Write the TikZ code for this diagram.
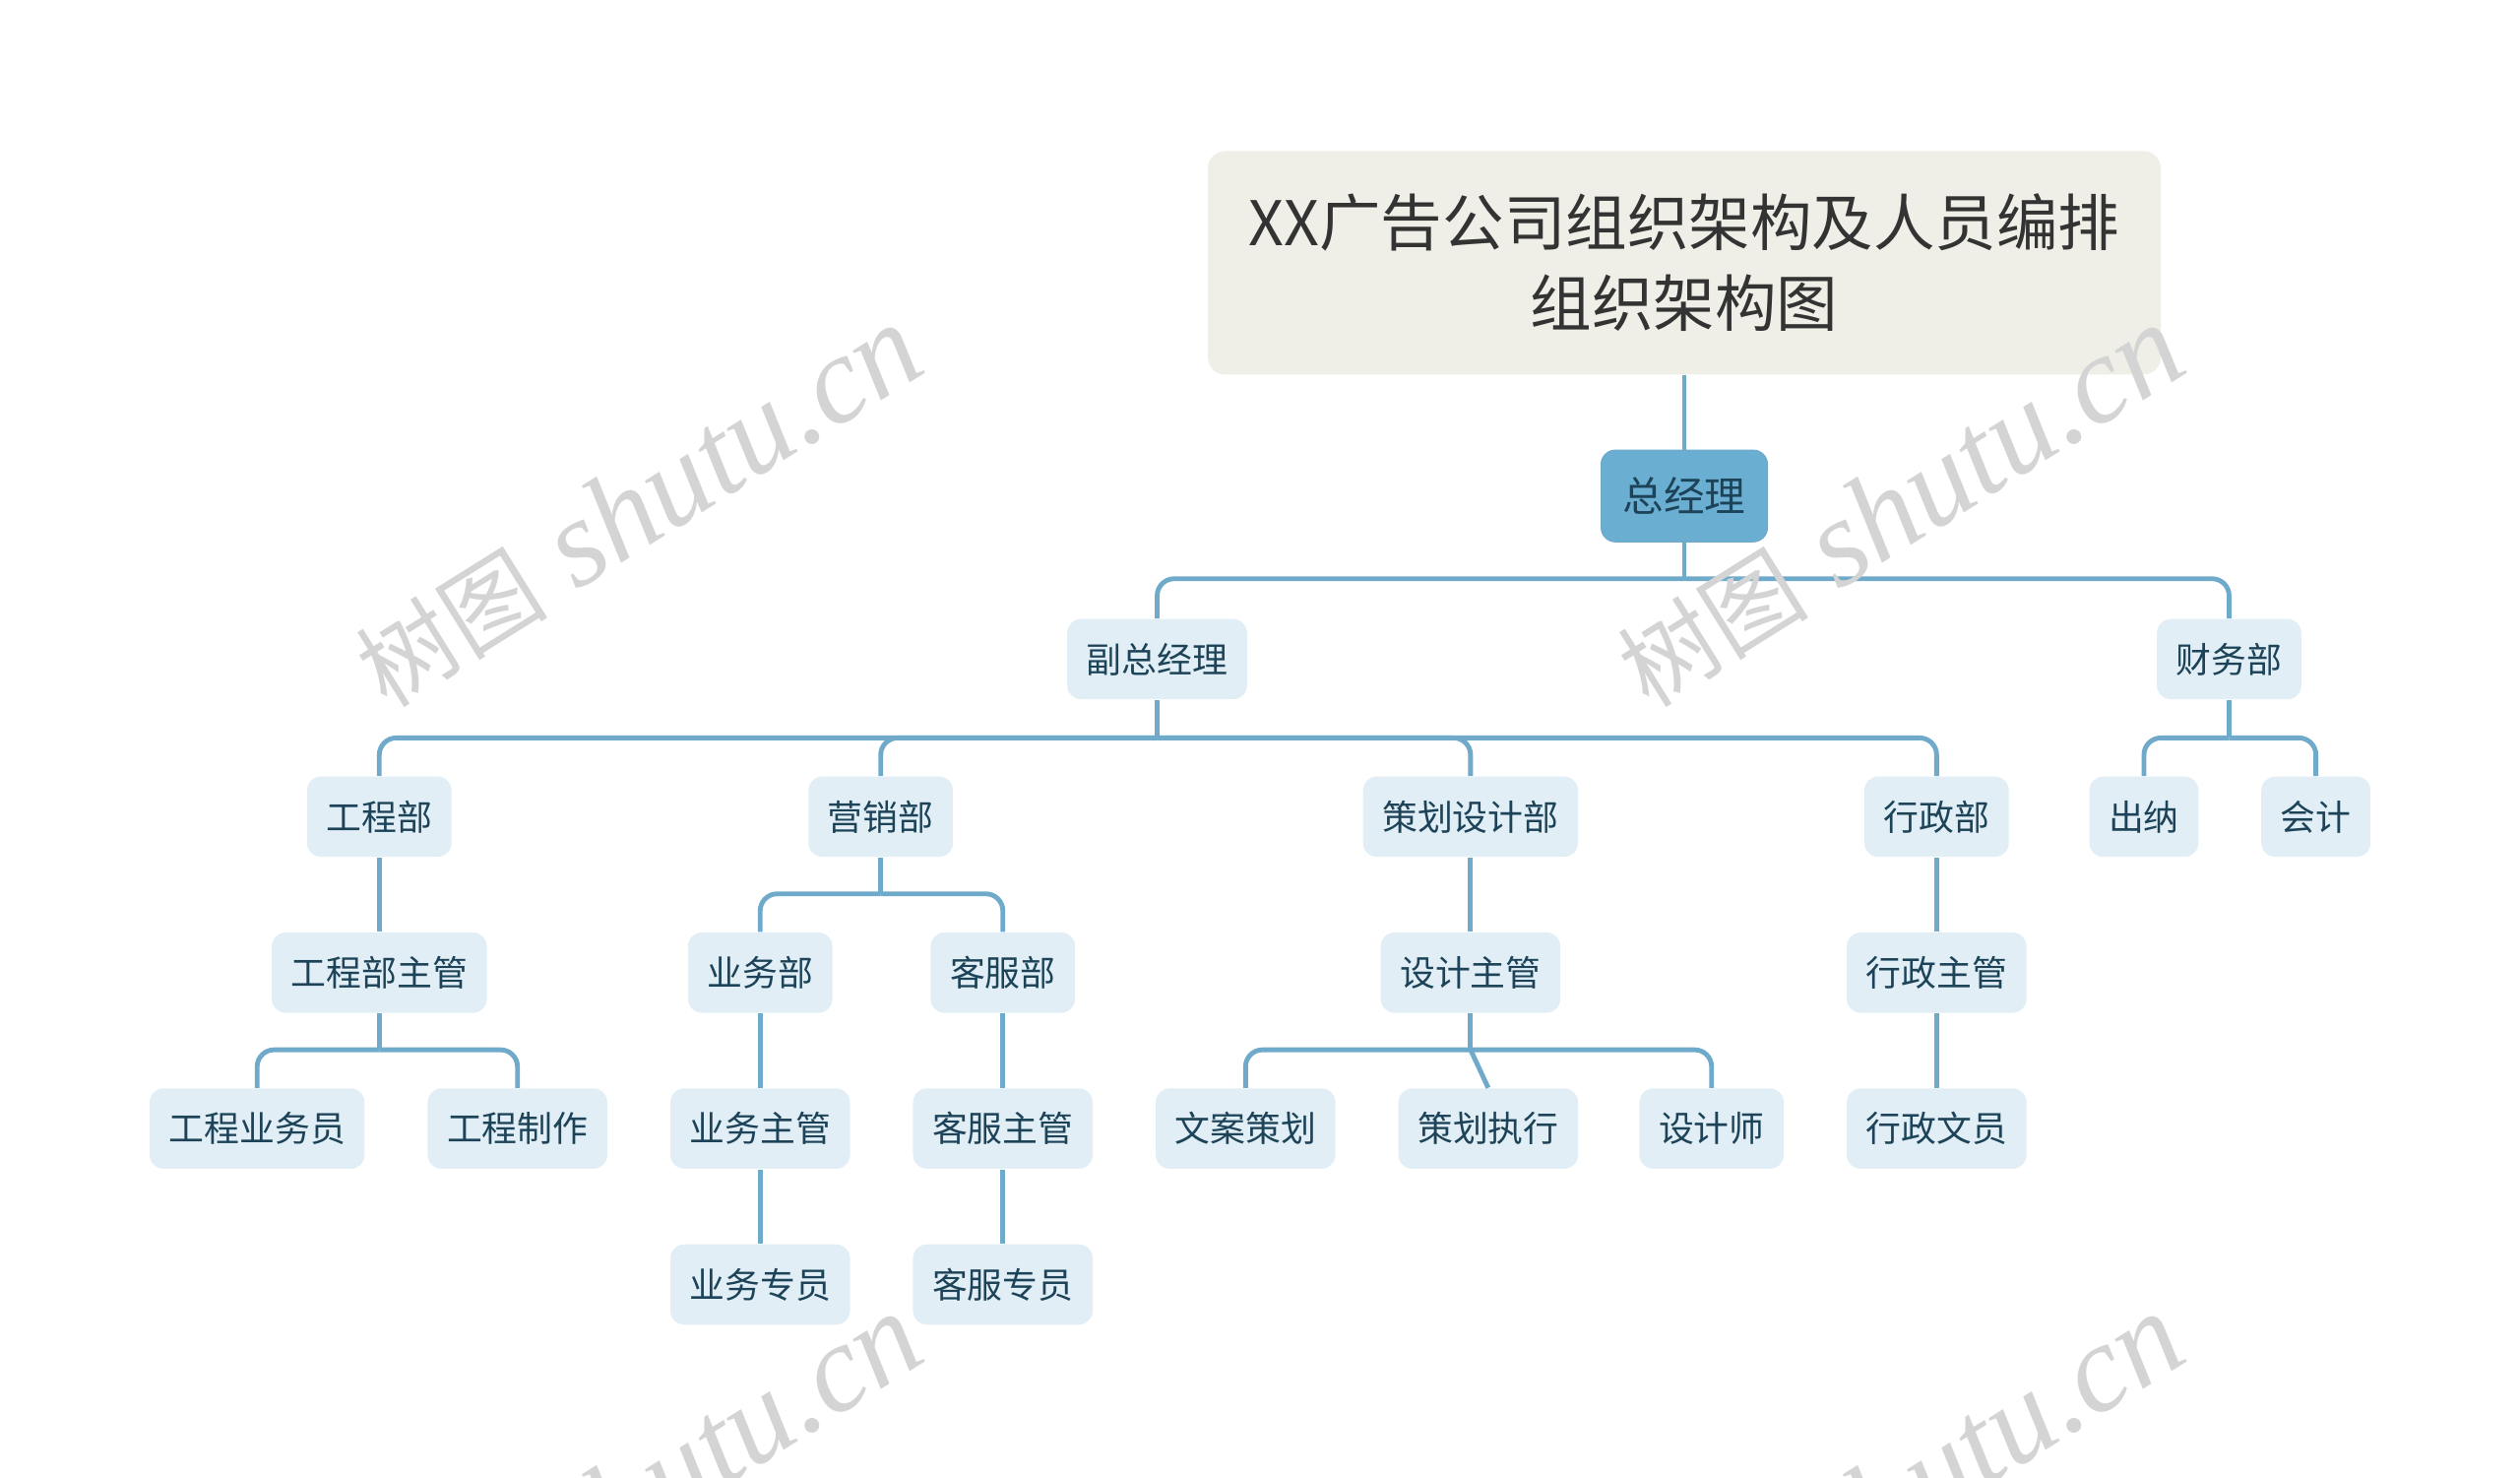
\documentclass[tikz,border=0pt]{standalone}
\usepackage{fontspec}
\setmainfont{Noto Sans CJK SC}
\newfontfamily\wmfont{Liberation Serif}
\newfontfamily\cjk{Noto Sans CJK SC}
\usetikzlibrary{calc}
\definecolor{linecol}{HTML}{6FAACB}
\definecolor{boxfill}{HTML}{E1EEF6}
\definecolor{boxtext}{HTML}{1D4358}
\definecolor{topfill}{HTML}{6AAED2}
\definecolor{titlefill}{HTML}{EFEFE7}
\definecolor{wmgray}{HTML}{D4D4D4}
\tikzset{%
  myedge/.style={draw=linecol, line width=1.7pt},
  mybar/.style={myedge, rounded corners=6pt},
  mynode/.style={rounded corners=5pt, fill=boxfill, text=boxtext, font=\fontsize{12.5}{15}\selectfont, inner xsep=0.24cm, minimum height=1.0cm},
  topnode/.style={mynode, fill=topfill, draw=linecol, font=\fontsize{14.5}{17}\selectfont, inner xsep=0.27cm, minimum height=1.14cm},
  titlenode/.style={rounded corners=6pt, fill=titlefill, text=black!80, align=center, font=\fontsize{21.8}{28.5}\selectfont, minimum width=11.86cm, minimum height=2.78cm},
  watermark/.style={text=wmgray, rotate=32, font=\wmfont\fontsize{44}{44}\selectfont}
}

\begin{document}
\begin{tikzpicture}[x=0.02cm, y=-0.02cm]
\useasboundingbox (0,0) rectangle (1568,919);

% title and top
\node [titlenode] (title) at (1048,163.5) {XX广告公司组织架构及人员编排\\组织架构图};
\node [topnode] (zjl) at (1048,308.5) {总经理};

% boxes
\foreach \n / \x / \y / \t in {fzjl/720/410/副总经理, cwb/1387/410/财务部,
  gcb/236/508/工程部, yxb/548/508/营销部, chsjb/915/508/策划设计部, xzb/1205/508/行政部,
  cn/1334/508/出纳, kj/1441/508/会计,
  gcbzg/236/605/工程部主管, ywb/473/605/业务部, kfb/624/605/客服部,
  sjzg/915/605/设计主管, xzzg/1205/605/行政主管,
  gcywy/160/702/工程业务员, gczz/322/702/工程制作, ywzg/473/702/业务主管, kfzg/624/702/客服主管,
  wacc/775/702/文案策划, chzx/926/702/策划执行, sjs/1065/702/设计师, xzwy/1205/702/行政文员,
  ywzy/473/799/业务专员, kfzy/624/799/客服专员}{
  \node [mynode] (\n) at (\x,\y) {\t};
}

% bars
\coordinate (b1) at (1048,360);
\coordinate (b2) at (720,459);
\coordinate (b3) at (1387,459);
\coordinate (b4) at (548,556);
\coordinate (b5) at (236,653);
\coordinate (b6) at (915,653);

\draw [myedge] (title) -- (zjl);

\foreach \p / \b in {zjl/b1, fzjl/b2, cwb/b3, yxb/b4, gcbzg/b5, sjzg/b6}{
  \draw [myedge] (\p.south) -- (\b);
}

\foreach \b / \c in {b1/fzjl, b1/cwb, b2/gcb, b2/yxb, b2/chsjb, b2/xzb, b3/cn, b3/kj,
  b4/ywb, b4/kfb, b5/gcywy, b5/gczz, b6/wacc, b6/sjs}{
  \draw [mybar] (\b) -| (\c.north);
}
\draw [myedge] (b6) -- (chzx.north);

% straight ones
\foreach \a / \b in {gcb/gcbzg, chsjb/sjzg, xzb/xzzg, xzzg/xzwy, ywb/ywzg, ywzg/ywzy, kfb/kfzg, kfzg/kfzy}{
  \draw [myedge] (\a) -- (\b);
}

% watermarks
\foreach \x / \y in {397/315, 1182/315, 397/930, 1182/930}{
  \node [watermark] (wm\x\y) at (\x,\y) {{\cjk\fontsize{34}{34}\selectfont 树图} \textit{shutu.cn}};
}

\end{tikzpicture}
\end{document}
